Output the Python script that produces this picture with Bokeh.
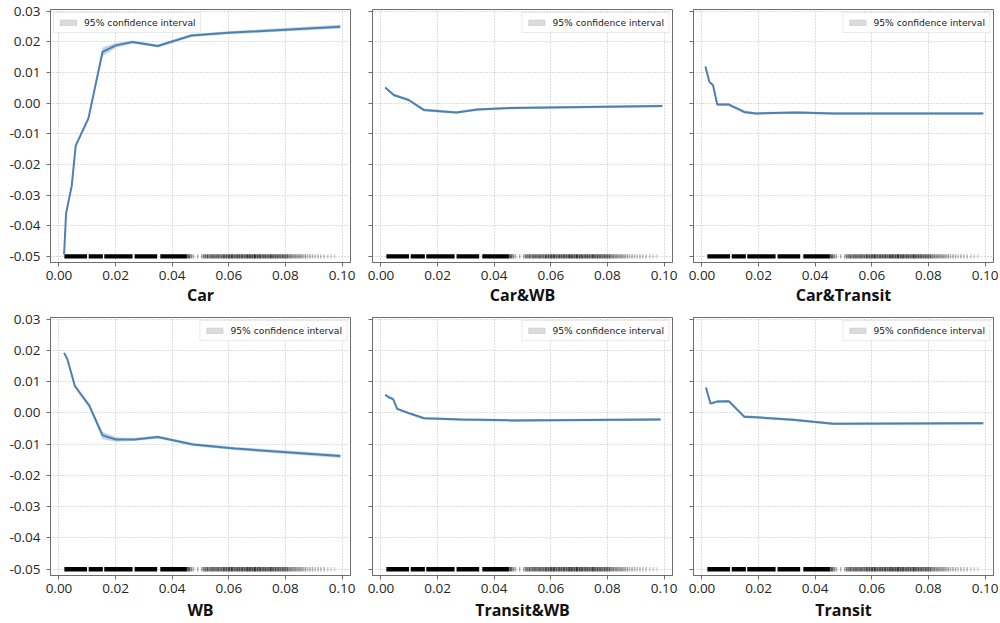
from bokeh.plotting import figure
from bokeh.layouts import column, row
from bokeh.models import (ColumnDataSource, Legend, LegendItem, FixedTicker,
                          CustomJSTickFormatter, Range1d)
from bokeh.embed import file_html
from bokeh.resources import INLINE

# ---------------- data ----------------
titles = ["Car", "Car&WB", "Car&Transit", "WB", "Transit&WB", "Transit"]

car_x = [0.0018, 0.0025, 0.0045, 0.0059, 0.0104, 0.0154, 0.0201, 0.0260, 0.0349, 0.0468, 0.0598, 0.0994]
car_y = [-0.0494, -0.0360, -0.0270, -0.0139, -0.0050, 0.0167, 0.0188, 0.0199, 0.0186, 0.0220, 0.0229, 0.0249]
car_ci = [0.0004, 0.0006, 0.0006, 0.0006, 0.0008, 0.0014, 0.0008, 0.0005, 0.0005, 0.0005, 0.0005, 0.0006]

carwb_x = [0.0015, 0.0045, 0.0098, 0.0152, 0.0266, 0.0341, 0.0460, 0.0994]
carwb_y = [0.0051, 0.0026, 0.0010, -0.0023, -0.0031, -0.0021, -0.0016, -0.0010]
carwb_ci = [0.0004, 0.0004, 0.0004, 0.0005, 0.0004, 0.0004, 0.0004, 0.0004]

cartr_x = [0.0012, 0.0026, 0.0039, 0.0054, 0.0095, 0.0149, 0.0190, 0.0334, 0.0464, 0.0994]
cartr_y = [0.0119, 0.0069, 0.0058, -0.0005, -0.0005, -0.0029, -0.0034, -0.0031, -0.0034, -0.0034]
cartr_ci = [0.0004, 0.0004, 0.0004, 0.0005, 0.0005, 0.0005, 0.0004, 0.0004, 0.0004, 0.0004]

wb_x = [0.0018, 0.0030, 0.0056, 0.0107, 0.0154, 0.0201, 0.0266, 0.0349, 0.0474, 0.0621, 0.0994]
wb_y = [0.0192, 0.0171, 0.0086, 0.0023, -0.0072, -0.0085, -0.0085, -0.0077, -0.0101, -0.0114, -0.0138]
wb_ci = [0.0004, 0.0005, 0.0006, 0.0007, 0.0012, 0.0007, 0.0005, 0.0005, 0.0005, 0.0005, 0.0006]

trwb_x = [0.0015, 0.0027, 0.0043, 0.0057, 0.0105, 0.0152, 0.0283, 0.0460, 0.0988]
trwb_y = [0.0058, 0.0050, 0.0044, 0.0013, -0.0003, -0.0017, -0.0021, -0.0024, -0.0021]
trwb_ci = [0.0004, 0.0004, 0.0004, 0.0004, 0.0004, 0.0004, 0.0004, 0.0004, 0.0004]

tr_x = [0.0014, 0.0030, 0.0054, 0.0095, 0.0149, 0.0191, 0.0321, 0.0464, 0.0994]
tr_y = [0.0081, 0.0030, 0.0036, 0.0037, -0.0012, -0.0014, -0.0022, -0.0035, -0.0033]
tr_ci = [0.0004, 0.0004, 0.0004, 0.0004, 0.0005, 0.0004, 0.0004, 0.0004, 0.0004]

# rug of observed x values: dense blocks, then individual ticks
rug_block_start = [0.0019, 0.0105, 0.0160, 0.0267, 0.0358]
rug_block_end = [0.0099, 0.0155, 0.0260, 0.0347, 0.0452]
rug_x = [0.0456, 0.0462, 0.0468, 0.0475, 0.0490, 0.0505, 0.0512, 0.0518, 0.0524, 0.0530,
         0.0536, 0.0541, 0.0547, 0.0552, 0.0558, 0.0563, 0.0569, 0.0575, 0.0581, 0.0586,
         0.0592, 0.0598, 0.0603, 0.0609, 0.0614, 0.0620, 0.0626, 0.0632, 0.0638, 0.0644,
         0.0649, 0.0655, 0.0661, 0.0666, 0.0672, 0.0678, 0.0684, 0.0690, 0.0695, 0.0701,
         0.0707, 0.0712, 0.0718, 0.0724, 0.0730, 0.0736, 0.0742, 0.0748, 0.0753, 0.0759,
         0.0765, 0.0771, 0.0777, 0.0783, 0.0789, 0.0795, 0.0801, 0.0807, 0.0813, 0.0820,
         0.0827, 0.0834, 0.0841, 0.0848, 0.0855, 0.0862, 0.0870, 0.0878, 0.0887, 0.0896,
         0.0905, 0.0915, 0.0925, 0.0937, 0.0950, 0.0962, 0.0974]
rug_alpha = [0.8, 0.6, 0.45, 0.35, 0.3, 0.4, 0.6, 0.55, 0.65, 0.6,
             0.55, 0.65, 0.6, 0.55, 0.65, 0.6, 0.65, 0.6, 0.7, 0.65,
             0.7, 0.65, 0.7, 0.75, 0.7, 0.65, 0.7, 0.75, 0.7, 0.65,
             0.7, 0.65, 0.7, 0.75, 0.8, 0.75, 0.7, 0.8, 0.75, 0.7,
             0.75, 0.7, 0.65, 0.75, 0.7, 0.65, 0.7, 0.75, 0.7, 0.65,
             0.7, 0.65, 0.7, 0.6, 0.65, 0.7, 0.6, 0.65, 0.55, 0.6,
             0.5, 0.55, 0.45, 0.5, 0.45, 0.4, 0.4, 0.3, 0.35, 0.3,
             0.25, 0.3, 0.25, 0.25, 0.2, 0.18, 0.15]

x_ticks = [0.0, 0.02, 0.04, 0.06, 0.08, 0.10]
y_ticks = [-0.05, -0.04, -0.03, -0.02, -0.01, 0.0, 0.01, 0.02, 0.03]
legend_label = "95% confidence interval"
rug_level = -0.05

series = [(car_x, car_y, car_ci), (carwb_x, carwb_y, carwb_ci), (cartr_x, cartr_y, cartr_ci),
          (wb_x, wb_y, wb_ci), (trwb_x, trwb_y, trwb_ci), (tr_x, tr_y, tr_ci)]

# ---------------- styling ----------------
LINE = "#4f80b0"
BAND = "#a9c6e2"
FRAME = "#6e6e6e"
TICK_FONT = "Open Sans"
FMT = "var v = Math.abs(tick) < 1e-9 ? 0 : tick; return v.toFixed(2);"


def make_panel(idx):
    xs, ys, ci = series[idx]
    r, c = divmod(idx, 3)
    left = [50, 11, 11][c]
    right = [11, 10, 7][c]
    width = left + 300 + right
    top = [9, 9][r]
    bottom = [40, 47][r]
    height = top + 259 + bottom
    p = figure(width=width, height=height, output_backend="svg", toolbar_location=None,
               x_range=Range1d(-0.003, 0.103), y_range=Range1d(-0.052, 0.0305),
               min_border_left=left, min_border_right=right,
               min_border_top=top, min_border_bottom=bottom)
    p.background_fill_color = "white"
    p.border_fill_color = "white"
    p.outline_line_color = FRAME
    p.outline_line_width = 1

    # grid
    for g in (p.xgrid, p.ygrid):
        g.grid_line_color = "#bdbdbd"
        g.grid_line_dash = "1 2"
        g.grid_line_width = 1
    p.xaxis.ticker = FixedTicker(ticks=x_ticks)
    p.yaxis.ticker = FixedTicker(ticks=y_ticks)
    p.xgrid.ticker = FixedTicker(ticks=x_ticks)
    p.ygrid.ticker = FixedTicker(ticks=y_ticks)

    for ax in (p.xaxis, p.yaxis):
        ax.formatter = CustomJSTickFormatter(code=FMT)
        ax.axis_line_color = FRAME
        ax.major_tick_line_color = FRAME
        ax.major_tick_out = 4
        ax.major_tick_in = 0
        ax.minor_tick_out = 0
        ax.minor_tick_in = 0
        ax.major_label_text_font = TICK_FONT
        ax.major_label_text_font_size = "13.5px"
        ax.major_label_text_color = "#262626"
    p.xaxis.major_label_standoff = 4
    p.yaxis.major_label_standoff = 6
    if c != 0:
        p.yaxis.formatter = CustomJSTickFormatter(code="return '';")
        p.yaxis.major_label_standoff = 0

    p.xaxis.axis_label = titles[idx]
    p.xaxis.axis_label_text_font = TICK_FONT
    p.xaxis.axis_label_text_font_style = "bold"
    p.xaxis.axis_label_text_font_size = "16px"
    p.xaxis.axis_label_text_color = "#111111"
    p.xaxis.axis_label_standoff = [1, 3][r]

    # rug
    p.quad(left=rug_block_start, right=rug_block_end,
           bottom=rug_level - 0.0007, top=rug_level + 0.0007,
           fill_color="black", line_color=None)
    rug_src = ColumnDataSource(dict(x=rug_x, a=rug_alpha))
    p.segment(x0="x", y0=rug_level - 0.0007, x1="x", y1=rug_level + 0.0007,
              line_color="black", line_alpha="a", line_width=1.5, source=rug_src)

    # confidence band + line
    lo = [y - e for y, e in zip(ys, ci)]
    hi = [y + e for y, e in zip(ys, ci)]
    p.varea(x=xs, y1=lo, y2=hi, fill_color=BAND, fill_alpha=0.75)
    p.line(xs, ys, line_color=LINE, line_width=2)

    # legend (gray patch, as in reference)
    dummy = p.quad(left=[float("nan")], right=[float("nan")], bottom=[float("nan")],
                   top=[float("nan")], fill_color="#dcdcdc", line_color="#d0d0d0")
    leg = Legend(items=[LegendItem(label=legend_label, renderers=[dummy])],
                 location="top_left" if idx == 0 else "top_right")
    leg.label_text_font = "DejaVu Sans"
    leg.label_text_font_size = "9.2px"
    leg.label_text_color = "#222222"
    leg.glyph_width = 20
    leg.glyph_height = 7
    leg.label_height = 10
    leg.label_standoff = 6
    leg.padding = 4
    leg.margin = 3
    leg.spacing = 0
    leg.border_line_color = "#d5d5d5"
    leg.border_line_width = 1
    leg.background_fill_color = "white"
    leg.background_fill_alpha = 0.85
    p.add_layout(leg)
    return p


panels = [make_panel(i) for i in range(6)]
layout = column(row(*panels[:3], spacing=0), row(*panels[3:], spacing=0), spacing=0)

with open("out.html", "w") as f:
    f.write(file_html(layout, INLINE))
